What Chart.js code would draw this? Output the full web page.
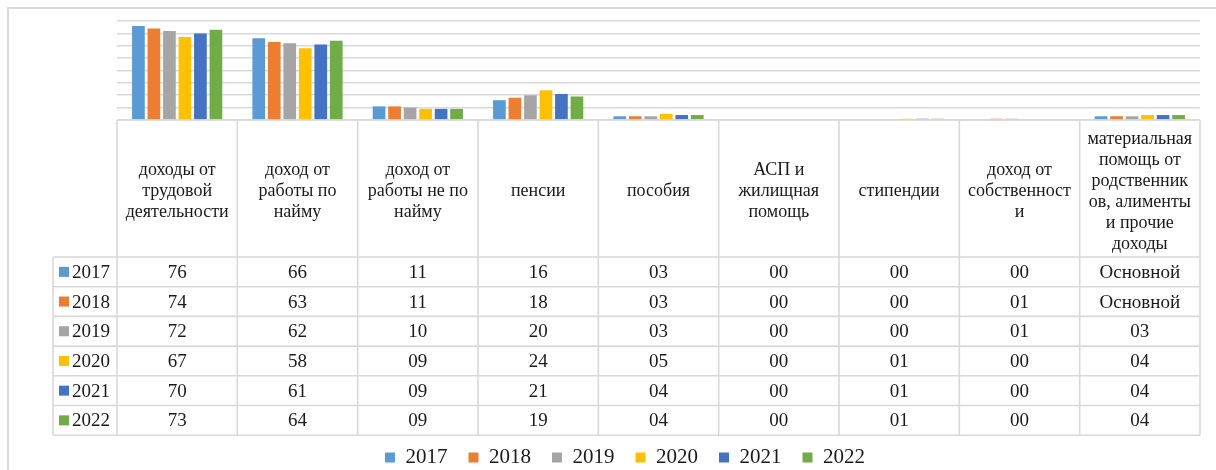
<!DOCTYPE html>
<html lang="ru">
<head>
<meta charset="utf-8">
<title>Доходы</title>
<script src="https://cdn.jsdelivr.net/npm/chart.js@4.4.1/dist/chart.umd.min.js"></script>
<style>
    html, body { margin: 0; padding: 0; background: #fff; overflow: hidden; }
    #wrap { position: relative; width: 1216px; height: 470px; }
</style>
</head>
<body>
<div id="wrap">
    <canvas id="myChart" width="1216" height="470"></canvas>
</div>
<script>
// Column headers (line breaks kept as in the table)
const categories = [
    ['доходы от', 'трудовой', 'деятельности'],
    ['доход от', 'работы по', 'найму'],
    ['доход от', 'работы не по', 'найму'],
    ['пенсии'],
    ['пособия'],
    ['АСП и', 'жилищная', 'помощь'],
    ['стипендии'],
    ['доход от', 'собственност', 'и'],
    ['материальная', 'помощь от', 'родственник', 'ов, алименты', 'и прочие', 'доходы']
];

const years = ['2017', '2018', '2019', '2020', '2021', '2022'];

const values2017 = [76, 66, 11, 16, 3, 0, 0, 0, 3];
const values2018 = [74, 63, 11, 18, 3, 0, 0, 1, 3];
const values2019 = [72, 62, 10, 20, 3, 0, 0, 1, 3];
const values2020 = [67, 58, 9, 24, 5, 0, 1, 0, 4];
const values2021 = [70, 61, 9, 21, 4, 0, 1, 0, 4];
const values2022 = [73, 64, 9, 19, 4, 0, 1, 0, 4];

// cells that show the format name instead of a number
const generalCells = { '2017': [8], '2018': [8] };

const yTicks = { min: 0, max: 80, step: 10 };

const colors = ['#5B9BD5', '#ED7D31', '#A5A5A5', '#FFC000', '#4472C4', '#70AD47'];
const allValues = [values2017, values2018, values2019, values2020, values2021, values2022];

const serif = '"Liberation Serif", "Times New Roman", serif';
const lineColor = '#d9d9d9';

function cellText(year, i, v) {
    if (generalCells[year] && generalCells[year].indexOf(i) !== -1) {
        return 'Основной';
    }
    return String(v).padStart(2, '0');
}

// Data table under the plot area, plus the outer frame
const dataTablePlugin = {
    id: 'dataTable',
    afterDraw: function (chart) {
        const ctx = chart.ctx;
        const area = chart.chartArea;
        const x = chart.scales.x;
        const catW = (area.right - area.left) / categories.length;
        const top = area.bottom;
        const headerH = 137;
        const rowH = 29.7;
        const headLeft = 53;
        const headerBottom = top + headerH;
        const tableBottom = headerBottom + rowH * years.length;

        ctx.save();
        // frame
        ctx.strokeStyle = lineColor;
        ctx.lineWidth = 2;
        ctx.strokeRect(8, 8, 1400, 700);

        // grid of the table
        ctx.lineWidth = 1.6;
        ctx.beginPath();
        ctx.moveTo(area.left, top);
        ctx.lineTo(area.right, top);
        for (let r = 0; r <= years.length; r++) {
            const yy = headerBottom + r * rowH;
            ctx.moveTo(headLeft, yy);
            ctx.lineTo(area.right, yy);
        }
        ctx.moveTo(headLeft, headerBottom);
        ctx.lineTo(headLeft, tableBottom);
        for (let c = 0; c <= categories.length; c++) {
            const xx = area.left + c * catW;
            ctx.moveTo(xx, top);
            ctx.lineTo(xx, tableBottom);
        }
        ctx.stroke();

        // column headers
        ctx.fillStyle = '#1a1a1a';
        ctx.textAlign = 'center';
        ctx.textBaseline = 'middle';
        ctx.font = '18px ' + serif;
        const lh = 21;
        categories.forEach(function (lines, i) {
            const cx = x.getPixelForValue(i);
            const startY = top + headerH / 2 - (lines.length - 1) * lh / 2 + 3;
            lines.forEach(function (line, k) {
                ctx.fillText(line, cx, startY + k * lh);
            });
        });

        // rows
        ctx.font = '19px ' + serif;
        years.forEach(function (year, r) {
            const cy = headerBottom + r * rowH + rowH / 2 + 1;
            ctx.fillStyle = colors[r];
            ctx.fillRect(59, cy - 6, 10, 10);
            ctx.fillStyle = '#1a1a1a';
            ctx.textAlign = 'left';
            ctx.fillText(year, 72, cy);
            ctx.textAlign = 'center';
            allValues[r].forEach(function (v, i) {
                ctx.fillText(cellText(year, i, v), x.getPixelForValue(i), cy);
            });
        });
        ctx.restore();
    }
};

var ctx = document.getElementById('myChart').getContext('2d');
var myChart = new Chart(ctx, {
    type: 'bar',
    data: {
        labels: categories,
        datasets: years.map(function (year, i) {
            return {
                label: year,
                data: allValues[i],
                backgroundColor: colors[i],
                borderWidth: 0,
                categoryPercentage: 0.773,
                barPercentage: 0.82
            };
        })
    },
    options: {
        responsive: false,
        animation: false,
        layout: {
            padding: { left: 50, right: 16, top: 21, bottom: -8 }
        },
        scales: {
            x: {
                ticks: { display: false },
                grid: { display: false },
                border: { display: false },
                afterFit: function (scale) {
                    scale.height = 306;
                }
            },
            y: {
                min: yTicks.min,
                max: yTicks.max,
                ticks: { display: false, stepSize: yTicks.step },
                grid: { color: lineColor, lineWidth: 1.6, drawTicks: false },
                border: { display: false },
                afterFit: function (scale) {
                    scale.width = 67;
                }
            }
        },
        plugins: {
            legend: {
                position: 'bottom',
                labels: {
                    font: { family: serif, size: 21 },
                    color: '#1a1a1a',
                    boxWidth: 10,
                    boxHeight: 10,
                    padding: 21
                }
            },
            tooltip: { enabled: false }
        }
    },
    plugins: [dataTablePlugin]
});
</script>
</body>
</html>
